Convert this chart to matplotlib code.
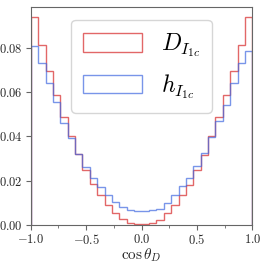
import numpy as np
import matplotlib
matplotlib.use("Agg")
import matplotlib.pyplot as plt
from matplotlib.ticker import FuncFormatter, MultipleLocator

plt.rcParams['mathtext.fontset'] = 'cm'

# 30 bins on cos(theta_D) in [-1, 1]
bin_lo = -1.0
bin_hi = 1.0
n_bins = 30

# D_{I_1c} (red)
d_vals = [0.0938, 0.0813, 0.0695, 0.0585, 0.0488, 0.0401, 0.0320, 0.0248, 0.0186, 0.0134,
          0.0092, 0.0053, 0.0025, 0.0010, 0.0003, 0.0003, 0.0010, 0.0022, 0.0054, 0.0092,
          0.0134, 0.0180, 0.0249, 0.0318, 0.0401, 0.0488, 0.0588, 0.0695, 0.0813, 0.0938]
# h_{I_1c} (blue)
h_vals = [0.0807, 0.0733, 0.0641, 0.0555, 0.0461, 0.0393, 0.0320, 0.0263, 0.0211, 0.0172,
          0.0136, 0.0106, 0.0082, 0.0068, 0.0062, 0.0062, 0.0066, 0.0073, 0.0100, 0.0134,
          0.0174, 0.0212, 0.0268, 0.0324, 0.0395, 0.0470, 0.0540, 0.0641, 0.0733, 0.0783]

labels = [r'$D_{I_{1c}}$', r'$h_{I_{1c}}$']

edges = np.linspace(bin_lo, bin_hi, n_bins + 1)
centers = 0.5 * (edges[:-1] + edges[1:])

fig = plt.figure(figsize=(2.66, 2.66), dpi=100)
ax = fig.add_axes([0.1155, 0.154, 0.8335, 0.821])

ax.hist(centers, bins=edges, weights=d_vals, histtype='step', color='#d62728', alpha=0.7, lw=1.0, label=labels[0])
ax.hist(centers, bins=edges, weights=h_vals, histtype='step', color='royalblue', alpha=0.7, lw=1.0, label=labels[1])

ax.set_xlim(-1, 1)
ax.xaxis.set_major_locator(MultipleLocator(0.5))
ax.xaxis.set_minor_locator(MultipleLocator(0.25))
ax.yaxis.set_major_locator(MultipleLocator(0.02))
ax.xaxis.set_major_formatter(FuncFormatter(lambda v, p: r'${:.1f}$'.format(v)))
ax.yaxis.set_major_formatter(FuncFormatter(lambda v, p: r'${:.2f}$'.format(v)))
for s in ax.spines.values():
    s.set_color('0.4')
ax.tick_params(which='both', colors='0.4', labelcolor='0.15', labelsize=9, pad=2)
ax.set_xlabel(r'$\cos\theta_D$', fontsize=11, labelpad=0, color='0.15')

ax.legend(loc='upper center', fontsize=17, handlelength=2.5, handleheight=0.85,
          borderaxespad=0.55, labelspacing=0.55, handletextpad=0.8, borderpad=0.5)

fig.savefig('out.png', dpi=100)
